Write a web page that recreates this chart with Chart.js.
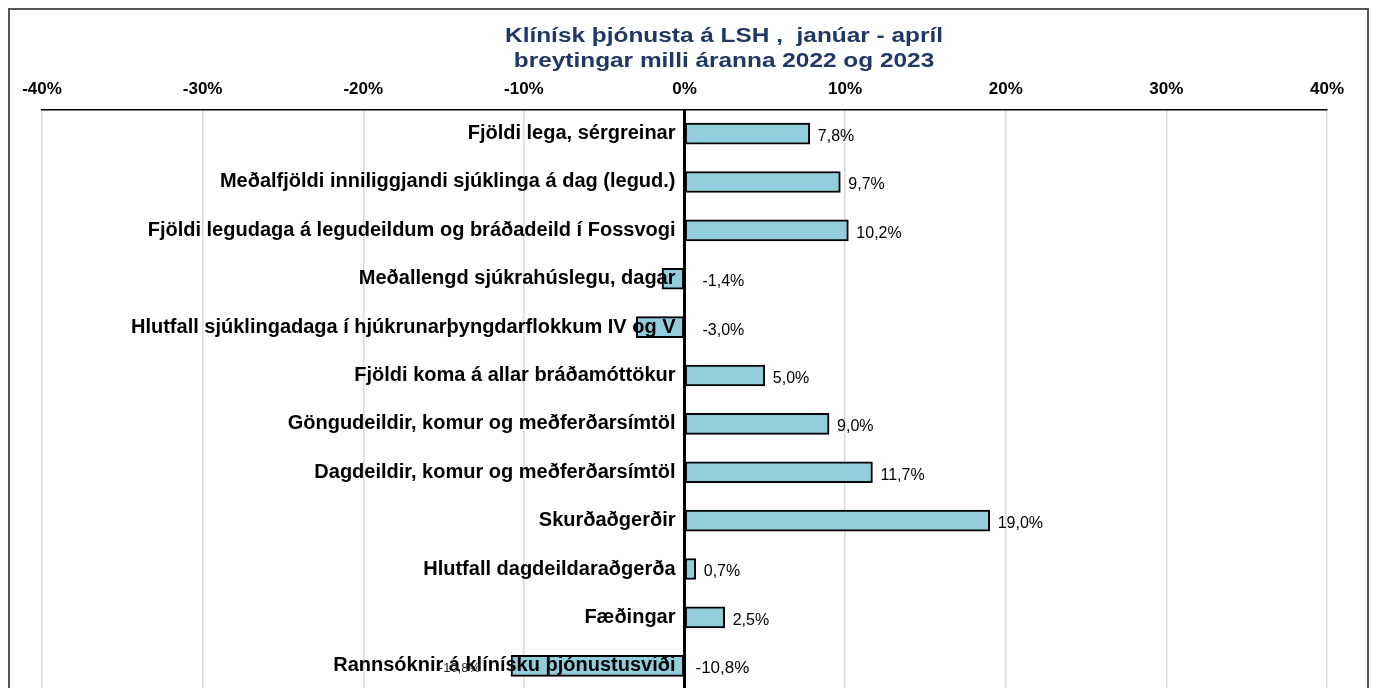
<!DOCTYPE html>
<html>
<head>
<meta charset="utf-8">
<script src="https://cdn.jsdelivr.net/npm/chart.js@4"></script>
<style>
  html, body { margin: 0; padding: 0; background: #fff; overflow: hidden; }
  #frame { position: absolute; left: 8px; top: 8px; width: 1357px; height: 800px; border: 2px solid #555; border-bottom: none; }
  #wrap { position: absolute; left: 0; top: 0; width: 1376px; height: 700px; }
</style>
</head>
<body>
<div id="frame"></div>
<div id="wrap"><canvas id="chart"></canvas></div>
<script>
const categories = [
  'Fjöldi lega, sérgreinar',
  'Meðalfjöldi inniliggjandi sjúklinga á dag (legud.)',
  'Fjöldi legudaga á legudeildum og bráðadeild í Fossvogi',
  'Meðallengd sjúkrahúslegu, dagar',
  'Hlutfall sjúklingadaga í hjúkrunarþyngdarflokkum IV og V',
  'Fjöldi koma á allar bráðamóttökur',
  'Göngudeildir, komur og meðferðarsímtöl',
  'Dagdeildir, komur og meðferðarsímtöl',
  'Skurðaðgerðir',
  'Hlutfall dagdeildaraðgerða',
  'Fæðingar',
  'Rannsóknir á klínísku þjónustusviði'
];
const changes = [7.8, 9.7, 10.2, -1.4, -3.0, 5.0, 9.0, 11.7, 19.0, 0.7, 2.5, -10.8];
const titleLines = ['Klínísk þjónusta á LSH ,  janúar - apríl', 'breytingar milli áranna 2022 og 2023'];
const xTicks = [-40, -30, -20, -10, 0, 10, 20, 30, 40];

const FONT = '"Liberation Sans", Arial, sans-serif';

function fmt(v) {
  return v.toFixed(1).replace('.', ',') + '%';
}

const labelsPlugin = {
  id: 'labelsPlugin',
  afterDatasetsDraw(chart) {
    const ctx = chart.ctx;
    const x = chart.scales.x;
    const y = chart.scales.y;
    const area = chart.chartArea;
    const x0 = x.getPixelForValue(0);

    // zero line
    ctx.save();
    ctx.strokeStyle = '#000';
    ctx.lineWidth = 3;
    ctx.beginPath();
    ctx.moveTo(x0, area.top);
    ctx.lineTo(x0, area.bottom);
    ctx.stroke();

    ctx.textBaseline = 'middle';
    categories.forEach((cat, i) => {
      const yc = y.getPixelForValue(i);
      ctx.fillStyle = '#000';
      ctx.font = 'bold 20px ' + FONT;
      ctx.textAlign = 'right';
      ctx.fillText(cat, x0 - 9, yc);

      const v = changes[i];
      ctx.textAlign = 'left';
      if (v >= 0) {
        ctx.font = '16px ' + FONT;
        ctx.fillText(fmt(v), x.getPixelForValue(v) + 8, yc + 3);
      } else {
        const big = v < -10;
        ctx.font = (big ? '17px ' : '16px ') + FONT;
        ctx.fillText(fmt(v), x0 + (big ? 11 : 18), yc + 3);
        if (big) {
          // leftover label sitting behind the category text
          ctx.font = '13px ' + FONT;
          ctx.fillStyle = '#222';
          ctx.textAlign = 'right';
          ctx.fillText(fmt(v), x.getPixelForValue(v) - 31, yc + 3);
        }
      }
    });

    // title (text in the original is a bit wider than plain Arial)
    ctx.fillStyle = '#1f3864';
    ctx.font = 'bold 20px ' + FONT;
    ctx.textAlign = 'center';
    ctx.translate(724, 0);
    ctx.scale(1.22, 1);
    ctx.fillText(titleLines[0], 0, 36);
    ctx.fillText(titleLines[1], 0, 61);
    ctx.restore();
  }
};

new Chart(document.getElementById('chart'), {
  type: 'bar',
  data: {
    labels: categories,
    datasets: [{
      data: changes,
      backgroundColor: '#92cddc',
      borderColor: '#000',
      borderWidth: 2,
      borderSkipped: false,
      barThickness: 21
    }]
  },
  options: {
    indexAxis: 'y',
    responsive: true,
    maintainAspectRatio: false,
    animation: false,
    layout: { padding: { top: 69, left: 42, right: 49, bottom: 10 } },
    plugins: { legend: { display: false }, tooltip: { enabled: false }, title: { display: false } },
    scales: {
      x: {
        position: 'top',
        min: -40,
        max: 40,
        afterBuildTicks(scale) { scale.ticks = xTicks.map(v => ({ value: v })); },
        ticks: {
          padding: 10,
          color: '#000',
          font: { family: FONT, size: 17, weight: 'bold' },
          callback: v => v + '%'
        },
        grid: { color: '#d9d9d9', lineWidth: 1.5, drawTicks: false },
        border: { display: true, color: '#000', width: 1.5 }
      },
      y: {
        display: false
      }
    }
  },
  plugins: [labelsPlugin]
});
</script>
</body>
</html>
